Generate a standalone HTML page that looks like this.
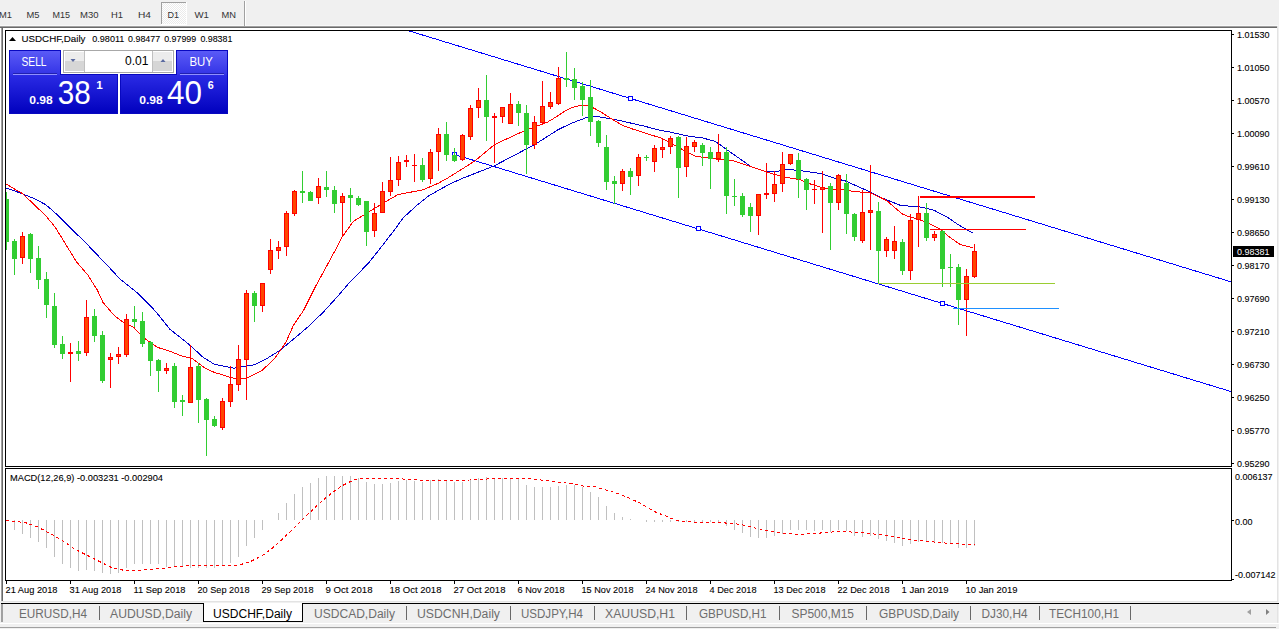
<!DOCTYPE html>
<html><head><meta charset="utf-8"><title>USDCHF,Daily</title>
<style>html,body{margin:0;padding:0;width:1279px;height:629px;overflow:hidden;background:#f0f0f0;font-family:'Liberation Sans', sans-serif}</style>
</head><body>
<svg width="1279" height="629" viewBox="0 0 1279 629" style="display:block;font-family:'Liberation Sans', sans-serif">
<defs><linearGradient id="btn" x1="0" y1="0" x2="0" y2="1"><stop offset="0" stop-color="#5a5af6"/><stop offset="0.4" stop-color="#2a2ae0"/><stop offset="1" stop-color="#0000c0"/></linearGradient><linearGradient id="btnl" gradientUnits="userSpaceOnUse" x1="0" y1="50" x2="0" y2="114"><stop offset="0" stop-color="#5c5cf7"/><stop offset="0.38" stop-color="#3434e6"/><stop offset="0.4" stop-color="#2a2ae4"/><stop offset="1" stop-color="#0000bd"/></linearGradient><pattern id="dith" width="2" height="2" patternUnits="userSpaceOnUse"><rect width="2" height="2" fill="#ffffff"/><rect width="1" height="1" fill="#ebebeb"/><rect x="1" y="1" width="1" height="1" fill="#ebebeb"/></pattern><clipPath id="clipMain"><rect x="6" y="31" width="1225" height="435"/></clipPath><clipPath id="clipMacd"><rect x="6" y="469" width="1225" height="111"/></clipPath></defs>
<rect x="0" y="0" width="1279" height="629" fill="#f0f0f0" />
<g shape-rendering="crispEdges">
<rect x="0" y="25" width="1278" height="1" fill="#f8f8f8" />
<rect x="0" y="26" width="1278" height="1" fill="#a0a0a0" />
<rect x="0" y="27" width="1278" height="1" fill="#696969" />
<rect x="161" y="2" width="25" height="22" fill="url(#dith)" />
<rect x="161" y="2" width="25" height="1" fill="#a0a0a0" />
<rect x="161" y="2" width="1" height="22" fill="#a0a0a0" />
<rect x="186" y="2" width="1" height="22" fill="#ffffff" />
<rect x="161" y="24" width="26" height="1" fill="#ffffff" />
<rect x="244" y="1" width="1" height="25" fill="#a0a0a0" />
<rect x="245" y="1" width="1" height="25" fill="#ffffff" />
<rect x="0" y="28" width="1278" height="573" fill="#ffffff" />
<rect x="1" y="28" width="1" height="573" fill="#a0a0a0" />
<rect x="2" y="28" width="1" height="573" fill="#696969" />
<rect x="1277" y="26" width="1" height="576" fill="#e3e3e3" />
<rect x="1" y="601" width="1277" height="1" fill="#e3e3e3" />
<rect x="5" y="30" width="1227" height="1" fill="#000" />
<rect x="5" y="30" width="1" height="437" fill="#000" />
<rect x="5" y="466" width="1227" height="1" fill="#000" />
<rect x="1231" y="30" width="1" height="437" fill="#000" />
<rect x="5" y="468" width="1227" height="1" fill="#000" />
<rect x="5" y="468" width="1" height="113" fill="#000" />
<rect x="5" y="580" width="1227" height="1" fill="#000" />
<rect x="1231" y="468" width="1" height="113" fill="#000" />
</g>
<text x="-1" y="18" font-size="9.8" fill="#333333" font-weight="normal" text-anchor="start" textLength="13" lengthAdjust="spacingAndGlyphs" >M1</text>
<text x="26.5" y="18" font-size="9.8" fill="#333333" font-weight="normal" text-anchor="start" textLength="13.0" lengthAdjust="spacingAndGlyphs" >M5</text>
<text x="52.5" y="18" font-size="9.8" fill="#333333" font-weight="normal" text-anchor="start" textLength="17.5" lengthAdjust="spacingAndGlyphs" >M15</text>
<text x="80" y="18" font-size="9.8" fill="#333333" font-weight="normal" text-anchor="start" textLength="18.5" lengthAdjust="spacingAndGlyphs" >M30</text>
<text x="111" y="18" font-size="9.8" fill="#333333" font-weight="normal" text-anchor="start" textLength="12" lengthAdjust="spacingAndGlyphs" >H1</text>
<text x="138" y="18" font-size="9.8" fill="#333333" font-weight="normal" text-anchor="start" textLength="13" lengthAdjust="spacingAndGlyphs" >H4</text>
<text x="167.5" y="18" font-size="9.8" fill="#333333" font-weight="normal" text-anchor="start" textLength="11.5" lengthAdjust="spacingAndGlyphs" >D1</text>
<text x="194.5" y="18" font-size="9.8" fill="#333333" font-weight="normal" text-anchor="start" textLength="14.5" lengthAdjust="spacingAndGlyphs" >W1</text>
<text x="221.5" y="18" font-size="9.8" fill="#333333" font-weight="normal" text-anchor="start" textLength="14.5" lengthAdjust="spacingAndGlyphs" >MN</text>
<g shape-rendering="crispEdges">
<rect x="1232" y="34" width="2" height="1" fill="#000" />
<rect x="1232" y="67" width="2" height="1" fill="#000" />
<rect x="1232" y="100" width="2" height="1" fill="#000" />
<rect x="1232" y="133" width="2" height="1" fill="#000" />
<rect x="1232" y="166" width="2" height="1" fill="#000" />
<rect x="1232" y="199" width="2" height="1" fill="#000" />
<rect x="1232" y="232" width="2" height="1" fill="#000" />
<rect x="1232" y="265" width="2" height="1" fill="#000" />
<rect x="1232" y="298" width="2" height="1" fill="#000" />
<rect x="1232" y="331" width="2" height="1" fill="#000" />
<rect x="1232" y="364" width="2" height="1" fill="#000" />
<rect x="1232" y="397" width="2" height="1" fill="#000" />
<rect x="1232" y="430" width="2" height="1" fill="#000" />
<rect x="1232" y="463" width="2" height="1" fill="#000" />
</g>
<text x="1237" y="38" font-size="9.8" fill="#000" font-weight="normal" text-anchor="start" textLength="32.5" lengthAdjust="spacingAndGlyphs" stroke="#000" stroke-width="0.1">1.01530</text>
<text x="1237" y="71" font-size="9.8" fill="#000" font-weight="normal" text-anchor="start" textLength="32.5" lengthAdjust="spacingAndGlyphs" stroke="#000" stroke-width="0.1">1.01050</text>
<text x="1237" y="104" font-size="9.8" fill="#000" font-weight="normal" text-anchor="start" textLength="32.5" lengthAdjust="spacingAndGlyphs" stroke="#000" stroke-width="0.1">1.00570</text>
<text x="1237" y="137" font-size="9.8" fill="#000" font-weight="normal" text-anchor="start" textLength="32.5" lengthAdjust="spacingAndGlyphs" stroke="#000" stroke-width="0.1">1.00090</text>
<text x="1237" y="170" font-size="9.8" fill="#000" font-weight="normal" text-anchor="start" textLength="32.5" lengthAdjust="spacingAndGlyphs" stroke="#000" stroke-width="0.1">0.99610</text>
<text x="1237" y="203" font-size="9.8" fill="#000" font-weight="normal" text-anchor="start" textLength="32.5" lengthAdjust="spacingAndGlyphs" stroke="#000" stroke-width="0.1">0.99130</text>
<text x="1237" y="236" font-size="9.8" fill="#000" font-weight="normal" text-anchor="start" textLength="32.5" lengthAdjust="spacingAndGlyphs" stroke="#000" stroke-width="0.1">0.98650</text>
<text x="1237" y="269" font-size="9.8" fill="#000" font-weight="normal" text-anchor="start" textLength="32.5" lengthAdjust="spacingAndGlyphs" stroke="#000" stroke-width="0.1">0.98170</text>
<text x="1237" y="302" font-size="9.8" fill="#000" font-weight="normal" text-anchor="start" textLength="32.5" lengthAdjust="spacingAndGlyphs" stroke="#000" stroke-width="0.1">0.97690</text>
<text x="1237" y="335" font-size="9.8" fill="#000" font-weight="normal" text-anchor="start" textLength="32.5" lengthAdjust="spacingAndGlyphs" stroke="#000" stroke-width="0.1">0.97210</text>
<text x="1237" y="368" font-size="9.8" fill="#000" font-weight="normal" text-anchor="start" textLength="32.5" lengthAdjust="spacingAndGlyphs" stroke="#000" stroke-width="0.1">0.96730</text>
<text x="1237" y="401" font-size="9.8" fill="#000" font-weight="normal" text-anchor="start" textLength="32.5" lengthAdjust="spacingAndGlyphs" stroke="#000" stroke-width="0.1">0.96250</text>
<text x="1237" y="434" font-size="9.8" fill="#000" font-weight="normal" text-anchor="start" textLength="32.5" lengthAdjust="spacingAndGlyphs" stroke="#000" stroke-width="0.1">0.95770</text>
<text x="1237" y="467" font-size="9.8" fill="#000" font-weight="normal" text-anchor="start" textLength="32.5" lengthAdjust="spacingAndGlyphs" stroke="#000" stroke-width="0.1">0.95290</text>
<rect x="1233" y="246" width="41" height="11" fill="#000" />
<text x="1237" y="255" font-size="9.8" fill="#fff" font-weight="normal" text-anchor="start" textLength="32.5" lengthAdjust="spacingAndGlyphs" >0.98381</text>
<g shape-rendering="crispEdges">
<rect x="1232" y="520" width="2" height="1" fill="#000" />
<rect x="1232" y="579" width="2" height="1" fill="#000" />
</g>
<text x="1235" y="479.5" font-size="9.8" fill="#000" font-weight="normal" text-anchor="start" textLength="37.5" lengthAdjust="spacingAndGlyphs" stroke="#000" stroke-width="0.1">0.006137</text>
<text x="1235" y="524.5" font-size="9.8" fill="#000" font-weight="normal" text-anchor="start" textLength="17.5" lengthAdjust="spacingAndGlyphs" stroke="#000" stroke-width="0.1">0.00</text>
<text x="1235" y="577.5" font-size="9.8" fill="#000" font-weight="normal" text-anchor="start" textLength="40.5" lengthAdjust="spacingAndGlyphs" stroke="#000" stroke-width="0.1">-0.007142</text>
<g shape-rendering="crispEdges">
<rect x="6" y="581" width="1" height="3" fill="#000" />
<rect x="70" y="581" width="1" height="3" fill="#000" />
<rect x="134" y="581" width="1" height="3" fill="#000" />
<rect x="198" y="581" width="1" height="3" fill="#000" />
<rect x="262" y="581" width="1" height="3" fill="#000" />
<rect x="326" y="581" width="1" height="3" fill="#000" />
<rect x="390" y="581" width="1" height="3" fill="#000" />
<rect x="454" y="581" width="1" height="3" fill="#000" />
<rect x="518" y="581" width="1" height="3" fill="#000" />
<rect x="582" y="581" width="1" height="3" fill="#000" />
<rect x="646" y="581" width="1" height="3" fill="#000" />
<rect x="710" y="581" width="1" height="3" fill="#000" />
<rect x="774" y="581" width="1" height="3" fill="#000" />
<rect x="838" y="581" width="1" height="3" fill="#000" />
<rect x="902" y="581" width="1" height="3" fill="#000" />
<rect x="966" y="581" width="1" height="3" fill="#000" />
</g>
<text x="5.5" y="593" font-size="9.8" fill="#000" font-weight="normal" text-anchor="start" textLength="52" lengthAdjust="spacingAndGlyphs" stroke="#000" stroke-width="0.1">21 Aug 2018</text>
<text x="69.5" y="593" font-size="9.8" fill="#000" font-weight="normal" text-anchor="start" textLength="52" lengthAdjust="spacingAndGlyphs" stroke="#000" stroke-width="0.1">31 Aug 2018</text>
<text x="133.5" y="593" font-size="9.8" fill="#000" font-weight="normal" text-anchor="start" textLength="52" lengthAdjust="spacingAndGlyphs" stroke="#000" stroke-width="0.1">11 Sep 2018</text>
<text x="197.5" y="593" font-size="9.8" fill="#000" font-weight="normal" text-anchor="start" textLength="52" lengthAdjust="spacingAndGlyphs" stroke="#000" stroke-width="0.1">20 Sep 2018</text>
<text x="261.5" y="593" font-size="9.8" fill="#000" font-weight="normal" text-anchor="start" textLength="52" lengthAdjust="spacingAndGlyphs" stroke="#000" stroke-width="0.1">29 Sep 2018</text>
<text x="325.5" y="593" font-size="9.8" fill="#000" font-weight="normal" text-anchor="start" textLength="47" lengthAdjust="spacingAndGlyphs" stroke="#000" stroke-width="0.1">9 Oct 2018</text>
<text x="389.5" y="593" font-size="9.8" fill="#000" font-weight="normal" text-anchor="start" textLength="52" lengthAdjust="spacingAndGlyphs" stroke="#000" stroke-width="0.1">18 Oct 2018</text>
<text x="453.5" y="593" font-size="9.8" fill="#000" font-weight="normal" text-anchor="start" textLength="52" lengthAdjust="spacingAndGlyphs" stroke="#000" stroke-width="0.1">27 Oct 2018</text>
<text x="517.5" y="593" font-size="9.8" fill="#000" font-weight="normal" text-anchor="start" textLength="47" lengthAdjust="spacingAndGlyphs" stroke="#000" stroke-width="0.1">6 Nov 2018</text>
<text x="581.5" y="593" font-size="9.8" fill="#000" font-weight="normal" text-anchor="start" textLength="52" lengthAdjust="spacingAndGlyphs" stroke="#000" stroke-width="0.1">15 Nov 2018</text>
<text x="645.5" y="593" font-size="9.8" fill="#000" font-weight="normal" text-anchor="start" textLength="52" lengthAdjust="spacingAndGlyphs" stroke="#000" stroke-width="0.1">24 Nov 2018</text>
<text x="709.5" y="593" font-size="9.8" fill="#000" font-weight="normal" text-anchor="start" textLength="47" lengthAdjust="spacingAndGlyphs" stroke="#000" stroke-width="0.1">4 Dec 2018</text>
<text x="773.5" y="593" font-size="9.8" fill="#000" font-weight="normal" text-anchor="start" textLength="52" lengthAdjust="spacingAndGlyphs" stroke="#000" stroke-width="0.1">13 Dec 2018</text>
<text x="837.5" y="593" font-size="9.8" fill="#000" font-weight="normal" text-anchor="start" textLength="52" lengthAdjust="spacingAndGlyphs" stroke="#000" stroke-width="0.1">22 Dec 2018</text>
<text x="901.5" y="593" font-size="9.8" fill="#000" font-weight="normal" text-anchor="start" textLength="47" lengthAdjust="spacingAndGlyphs" stroke="#000" stroke-width="0.1">1 Jan 2019</text>
<text x="965.5" y="593" font-size="9.8" fill="#000" font-weight="normal" text-anchor="start" textLength="52" lengthAdjust="spacingAndGlyphs" stroke="#000" stroke-width="0.1">10 Jan 2019</text>
<path d="M9 41 L16 41 L12.5 37 Z" fill="#000"/>
<text x="21.5" y="41.5" font-size="9.8" fill="#000" font-weight="normal" text-anchor="start" textLength="64" lengthAdjust="spacingAndGlyphs" stroke="#000" stroke-width="0.1">USDCHF,Daily</text>
<text x="92.3" y="41.5" font-size="9.8" fill="#000" font-weight="normal" text-anchor="start" textLength="32" lengthAdjust="spacingAndGlyphs" stroke="#000" stroke-width="0.1">0.98011</text>
<text x="128.1" y="41.5" font-size="9.8" fill="#000" font-weight="normal" text-anchor="start" textLength="32" lengthAdjust="spacingAndGlyphs" stroke="#000" stroke-width="0.1">0.98477</text>
<text x="164.2" y="41.5" font-size="9.8" fill="#000" font-weight="normal" text-anchor="start" textLength="32" lengthAdjust="spacingAndGlyphs" stroke="#000" stroke-width="0.1">0.97999</text>
<text x="200.4" y="41.5" font-size="9.8" fill="#000" font-weight="normal" text-anchor="start" textLength="32" lengthAdjust="spacingAndGlyphs" stroke="#000" stroke-width="0.1">0.98381</text>
<g clip-path="url(#clipMain)">
<g shape-rendering="crispEdges" fill="none" stroke="#0000ff" stroke-width="1">
<path d="M407.77 30.5 L1231 281.83"/>
<path d="M454.5 154.5 L1231 391.57"/>
</g>
<g shape-rendering="crispEdges" fill="#fff" stroke="#0000ff" stroke-width="1">
<rect x="628.5" y="96.5" width="4" height="4"/>
<rect x="452.5" y="152.5" width="4" height="4"/>
<rect x="696.5" y="226.5" width="4" height="4"/>
<rect x="940.5" y="301.5" width="4" height="4"/>
</g>
<polyline points="5.0,187.6 19.0,192.5 34.4,198.6 45.8,204.7 57.3,214.8 74.4,232.0 82.0,239.0 97.3,254.9 114.5,273.0 118.3,277.6 137.4,292.9 152.7,308.2 158.4,314.8 169.8,329.2 183.2,339.7 191.6,346.7 203.0,357.2 214.5,364.4 233.6,368.2 241.2,366.7 254.6,364.8 266.0,359.1 280.5,350.0 306.8,327.9 322.7,312.8 338.6,295.3 348.0,284.2 368.8,262.7 378.3,250.8 394.4,230.0 403.0,218.0 417.3,205.0 428.8,195.8 440.0,189.4 452.0,183.0 463.4,178.0 494.5,165.7 534.6,144.6 558.6,129.4 572.0,123.0 587.2,117.3 597.2,116.5 614.4,119.4 643.0,125.8 658.7,130.0 671.2,132.3 689.0,136.3 702.3,137.8 715.7,141.6 729.0,151.2 751.3,166.8 766.9,171.9 778.0,171.2 786.9,169.5 800.0,170.5 820.1,173.5 836.7,178.8 845.5,181.0 861.2,188.0 870.0,191.9 880.0,197.2 901.1,205.6 918.9,206.7 933.4,210.0 946.7,216.7 957.9,224.5 973.4,233.4" fill="none" stroke="#0000cd" stroke-width="1" shape-rendering="crispEdges"/>
<polyline points="5.0,183.4 22.9,193.9 45.8,215.8 55.3,227.3 76.3,261.6 87.8,275.0 97.3,290.0 103.0,302.4 114.5,315.8 122.1,321.5 133.6,327.3 145.0,338.7 157.3,347.3 170.6,351.5 182.1,356.2 191.6,358.1 205.0,368.2 214.5,372.4 229.8,377.2 237.4,379.1 246.9,378.2 262.2,370.5 275.6,357.2 286.1,341.9 293.3,325.5 303.6,310.4 314.7,288.0 335.4,250.0 342.3,236.8 353.4,221.2 364.6,214.5 384.6,202.3 398.0,194.5 422.4,190.0 438.0,183.4 447.8,178.0 474.5,161.2 494.5,144.6 523.4,131.2 547.2,122.3 556.0,117.0 564.3,111.5 572.0,107.6 580.0,105.5 587.0,105.4 594.4,108.4 600.0,111.5 605.8,115.1 615.8,121.5 623.0,125.5 631.6,128.7 662.3,138.5 680.0,148.3 695.7,156.3 711.2,158.5 733.5,160.7 751.3,166.8 769.0,172.8 784.7,177.2 800.0,179.7 808.7,183.4 820.1,187.1 828.8,189.3 849.0,190.2 852.4,191.5 868.2,192.5 874.3,194.5 886.7,200.6 902.2,213.9 908.9,216.7 916.7,218.7 928.9,223.4 940.1,228.9 949.0,236.7 960.1,244.5 973.4,247.8" fill="none" stroke="#ff0000" stroke-width="1" shape-rendering="crispEdges"/>
<g shape-rendering="crispEdges">
<rect x="6" y="192" width="1" height="58" fill="#32cd32" />
<rect x="4" y="199" width="5" height="43" fill="#32cd32" />
<rect x="14" y="239" width="1" height="36" fill="#32cd32" />
<rect x="12" y="241" width="5" height="18" fill="#32cd32" />
<rect x="22" y="232" width="1" height="32" fill="#ff0000" />
<rect x="20" y="236" width="5" height="22" fill="#ff0000" />
<rect x="21" y="237" width="3" height="20" fill="#ff4500" />
<rect x="30" y="233" width="1" height="40" fill="#32cd32" />
<rect x="28" y="234" width="5" height="25" fill="#32cd32" />
<rect x="38" y="246" width="1" height="43" fill="#32cd32" />
<rect x="36" y="258" width="5" height="22" fill="#32cd32" />
<rect x="46" y="272" width="1" height="46" fill="#32cd32" />
<rect x="44" y="279" width="5" height="26" fill="#32cd32" />
<rect x="54" y="293" width="1" height="55" fill="#32cd32" />
<rect x="52" y="306" width="5" height="39" fill="#32cd32" />
<rect x="62" y="336" width="1" height="23" fill="#32cd32" />
<rect x="60" y="344" width="5" height="10" fill="#32cd32" />
<rect x="70" y="343" width="1" height="39" fill="#ff0000" />
<rect x="68" y="352" width="5" height="2" fill="#ff0000" />
<rect x="78" y="341" width="1" height="20" fill="#32cd32" />
<rect x="76" y="351" width="5" height="3" fill="#32cd32" />
<rect x="86" y="300" width="1" height="56" fill="#ff0000" />
<rect x="84" y="317" width="5" height="36" fill="#ff0000" />
<rect x="85" y="318" width="3" height="34" fill="#ff4500" />
<rect x="94" y="309" width="1" height="33" fill="#32cd32" />
<rect x="92" y="316" width="5" height="20" fill="#32cd32" />
<rect x="102" y="331" width="1" height="52" fill="#32cd32" />
<rect x="100" y="335" width="5" height="46" fill="#32cd32" />
<rect x="110" y="353" width="1" height="35" fill="#ff0000" />
<rect x="108" y="357" width="5" height="3" fill="#ff0000" />
<rect x="109" y="358" width="3" height="1" fill="#ff4500" />
<rect x="118" y="347" width="1" height="17" fill="#ff0000" />
<rect x="116" y="354" width="5" height="3" fill="#ff0000" />
<rect x="117" y="355" width="3" height="1" fill="#ff4500" />
<rect x="126" y="314" width="1" height="43" fill="#ff0000" />
<rect x="124" y="319" width="5" height="36" fill="#ff0000" />
<rect x="125" y="320" width="3" height="34" fill="#ff4500" />
<rect x="134" y="306" width="1" height="21" fill="#32cd32" />
<rect x="132" y="319" width="5" height="3" fill="#32cd32" />
<rect x="142" y="312" width="1" height="35" fill="#32cd32" />
<rect x="140" y="321" width="5" height="23" fill="#32cd32" />
<rect x="150" y="341" width="1" height="35" fill="#32cd32" />
<rect x="148" y="342" width="5" height="19" fill="#32cd32" />
<rect x="158" y="359" width="1" height="33" fill="#32cd32" />
<rect x="156" y="360" width="5" height="11" fill="#32cd32" />
<rect x="166" y="363" width="1" height="11" fill="#ff0000" />
<rect x="164" y="368" width="5" height="3" fill="#ff0000" />
<rect x="165" y="369" width="3" height="1" fill="#ff4500" />
<rect x="174" y="363" width="1" height="45" fill="#32cd32" />
<rect x="172" y="366" width="5" height="36" fill="#32cd32" />
<rect x="182" y="395" width="1" height="21" fill="#32cd32" />
<rect x="180" y="400" width="5" height="2" fill="#32cd32" />
<rect x="190" y="345" width="1" height="58" fill="#ff0000" />
<rect x="188" y="367" width="5" height="36" fill="#ff0000" />
<rect x="189" y="368" width="3" height="34" fill="#ff4500" />
<rect x="198" y="363" width="1" height="60" fill="#32cd32" />
<rect x="196" y="366" width="5" height="34" fill="#32cd32" />
<rect x="206" y="398" width="1" height="58" fill="#32cd32" />
<rect x="204" y="399" width="5" height="21" fill="#32cd32" />
<rect x="214" y="416" width="1" height="11" fill="#32cd32" />
<rect x="212" y="419" width="5" height="7" fill="#32cd32" />
<rect x="222" y="398" width="1" height="32" fill="#ff0000" />
<rect x="220" y="401" width="5" height="27" fill="#ff0000" />
<rect x="221" y="402" width="3" height="25" fill="#ff4500" />
<rect x="230" y="366" width="1" height="41" fill="#ff0000" />
<rect x="228" y="384" width="5" height="18" fill="#ff0000" />
<rect x="229" y="385" width="3" height="16" fill="#ff4500" />
<rect x="238" y="345" width="1" height="46" fill="#ff0000" />
<rect x="236" y="359" width="5" height="26" fill="#ff0000" />
<rect x="237" y="360" width="3" height="24" fill="#ff4500" />
<rect x="246" y="290" width="1" height="110" fill="#ff0000" />
<rect x="244" y="293" width="5" height="67" fill="#ff0000" />
<rect x="245" y="294" width="3" height="65" fill="#ff4500" />
<rect x="254" y="291" width="1" height="31" fill="#32cd32" />
<rect x="252" y="293" width="5" height="13" fill="#32cd32" />
<rect x="262" y="283" width="1" height="29" fill="#ff0000" />
<rect x="260" y="283" width="5" height="23" fill="#ff0000" />
<rect x="261" y="284" width="3" height="21" fill="#ff4500" />
<rect x="270" y="239" width="1" height="35" fill="#ff0000" />
<rect x="268" y="250" width="5" height="20" fill="#ff0000" />
<rect x="269" y="251" width="3" height="18" fill="#ff4500" />
<rect x="278" y="241" width="1" height="18" fill="#ff0000" />
<rect x="276" y="247" width="5" height="4" fill="#ff0000" />
<rect x="277" y="248" width="3" height="2" fill="#ff4500" />
<rect x="286" y="211" width="1" height="45" fill="#ff0000" />
<rect x="284" y="213" width="5" height="34" fill="#ff0000" />
<rect x="285" y="214" width="3" height="32" fill="#ff4500" />
<rect x="294" y="190" width="1" height="26" fill="#ff0000" />
<rect x="292" y="191" width="5" height="23" fill="#ff0000" />
<rect x="293" y="192" width="3" height="21" fill="#ff4500" />
<rect x="302" y="171" width="1" height="32" fill="#32cd32" />
<rect x="300" y="191" width="5" height="2" fill="#32cd32" />
<rect x="310" y="191" width="1" height="10" fill="#32cd32" />
<rect x="308" y="192" width="5" height="9" fill="#32cd32" />
<rect x="318" y="178" width="1" height="26" fill="#ff0000" />
<rect x="316" y="186" width="5" height="12" fill="#ff0000" />
<rect x="317" y="187" width="3" height="10" fill="#ff4500" />
<rect x="326" y="171" width="1" height="26" fill="#32cd32" />
<rect x="324" y="187" width="5" height="3" fill="#32cd32" />
<rect x="334" y="186" width="1" height="27" fill="#32cd32" />
<rect x="332" y="190" width="5" height="14" fill="#32cd32" />
<rect x="342" y="193" width="1" height="44" fill="#ff0000" />
<rect x="340" y="196" width="5" height="7" fill="#ff0000" />
<rect x="341" y="197" width="3" height="5" fill="#ff4500" />
<rect x="350" y="188" width="1" height="34" fill="#32cd32" />
<rect x="348" y="195" width="5" height="3" fill="#32cd32" />
<rect x="358" y="196" width="1" height="10" fill="#32cd32" />
<rect x="356" y="198" width="5" height="7" fill="#32cd32" />
<rect x="366" y="201" width="1" height="45" fill="#32cd32" />
<rect x="364" y="201" width="5" height="31" fill="#32cd32" />
<rect x="374" y="203" width="1" height="34" fill="#ff0000" />
<rect x="372" y="213" width="5" height="18" fill="#ff0000" />
<rect x="373" y="214" width="3" height="16" fill="#ff4500" />
<rect x="382" y="182" width="1" height="31" fill="#ff0000" />
<rect x="380" y="191" width="5" height="22" fill="#ff0000" />
<rect x="381" y="192" width="3" height="20" fill="#ff4500" />
<rect x="390" y="157" width="1" height="39" fill="#ff0000" />
<rect x="388" y="180" width="5" height="12" fill="#ff0000" />
<rect x="389" y="181" width="3" height="10" fill="#ff4500" />
<rect x="398" y="156" width="1" height="30" fill="#ff0000" />
<rect x="396" y="162" width="5" height="18" fill="#ff0000" />
<rect x="397" y="163" width="3" height="16" fill="#ff4500" />
<rect x="406" y="155" width="1" height="12" fill="#ff0000" />
<rect x="404" y="160" width="5" height="2" fill="#ff0000" />
<rect x="414" y="154" width="1" height="28" fill="#ff0000" />
<rect x="412" y="165" width="5" height="1" fill="#ff0000" />
<rect x="422" y="158" width="1" height="24" fill="#32cd32" />
<rect x="420" y="165" width="5" height="15" fill="#32cd32" />
<rect x="430" y="149" width="1" height="35" fill="#ff0000" />
<rect x="428" y="152" width="5" height="27" fill="#ff0000" />
<rect x="429" y="153" width="3" height="25" fill="#ff4500" />
<rect x="438" y="128" width="1" height="43" fill="#ff0000" />
<rect x="436" y="134" width="5" height="18" fill="#ff0000" />
<rect x="437" y="135" width="3" height="16" fill="#ff4500" />
<rect x="446" y="122" width="1" height="39" fill="#32cd32" />
<rect x="444" y="134" width="5" height="21" fill="#32cd32" />
<rect x="454" y="148" width="1" height="14" fill="#32cd32" />
<rect x="452" y="155" width="5" height="6" fill="#32cd32" />
<rect x="462" y="134" width="1" height="27" fill="#ff0000" />
<rect x="460" y="135" width="5" height="25" fill="#ff0000" />
<rect x="461" y="136" width="3" height="23" fill="#ff4500" />
<rect x="470" y="105" width="1" height="35" fill="#ff0000" />
<rect x="468" y="108" width="5" height="29" fill="#ff0000" />
<rect x="469" y="109" width="3" height="27" fill="#ff4500" />
<rect x="478" y="88" width="1" height="30" fill="#ff0000" />
<rect x="476" y="100" width="5" height="8" fill="#ff0000" />
<rect x="477" y="101" width="3" height="6" fill="#ff4500" />
<rect x="486" y="75" width="1" height="66" fill="#32cd32" />
<rect x="484" y="100" width="5" height="17" fill="#32cd32" />
<rect x="494" y="113" width="1" height="50" fill="#ff0000" />
<rect x="492" y="116" width="5" height="2" fill="#ff0000" />
<rect x="502" y="107" width="1" height="16" fill="#ff0000" />
<rect x="500" y="107" width="5" height="10" fill="#ff0000" />
<rect x="501" y="108" width="3" height="8" fill="#ff4500" />
<rect x="510" y="93" width="1" height="31" fill="#ff0000" />
<rect x="508" y="104" width="5" height="20" fill="#ff0000" />
<rect x="509" y="105" width="3" height="18" fill="#ff4500" />
<rect x="518" y="101" width="1" height="25" fill="#32cd32" />
<rect x="516" y="104" width="5" height="9" fill="#32cd32" />
<rect x="526" y="105" width="1" height="69" fill="#32cd32" />
<rect x="524" y="113" width="5" height="32" fill="#32cd32" />
<rect x="534" y="116" width="1" height="33" fill="#ff0000" />
<rect x="532" y="122" width="5" height="23" fill="#ff0000" />
<rect x="533" y="123" width="3" height="21" fill="#ff4500" />
<rect x="542" y="81" width="1" height="43" fill="#ff0000" />
<rect x="540" y="106" width="5" height="17" fill="#ff0000" />
<rect x="541" y="107" width="3" height="15" fill="#ff4500" />
<rect x="550" y="92" width="1" height="17" fill="#ff0000" />
<rect x="548" y="102" width="5" height="5" fill="#ff0000" />
<rect x="549" y="103" width="3" height="3" fill="#ff4500" />
<rect x="558" y="67" width="1" height="38" fill="#ff0000" />
<rect x="556" y="78" width="5" height="26" fill="#ff0000" />
<rect x="557" y="79" width="3" height="24" fill="#ff4500" />
<rect x="566" y="52" width="1" height="35" fill="#32cd32" />
<rect x="564" y="78" width="5" height="2" fill="#32cd32" />
<rect x="574" y="68" width="1" height="32" fill="#32cd32" />
<rect x="572" y="79" width="5" height="9" fill="#32cd32" />
<rect x="582" y="82" width="1" height="34" fill="#32cd32" />
<rect x="580" y="86" width="5" height="14" fill="#32cd32" />
<rect x="590" y="80" width="1" height="56" fill="#32cd32" />
<rect x="588" y="97" width="5" height="25" fill="#32cd32" />
<rect x="598" y="120" width="1" height="27" fill="#32cd32" />
<rect x="596" y="121" width="5" height="22" fill="#32cd32" />
<rect x="606" y="135" width="1" height="55" fill="#32cd32" />
<rect x="604" y="147" width="5" height="35" fill="#32cd32" />
<rect x="614" y="176" width="1" height="28" fill="#32cd32" />
<rect x="612" y="181" width="5" height="3" fill="#32cd32" />
<rect x="622" y="169" width="1" height="22" fill="#ff0000" />
<rect x="620" y="171" width="5" height="13" fill="#ff0000" />
<rect x="621" y="172" width="3" height="11" fill="#ff4500" />
<rect x="630" y="168" width="1" height="27" fill="#32cd32" />
<rect x="628" y="171" width="5" height="6" fill="#32cd32" />
<rect x="638" y="154" width="1" height="32" fill="#ff0000" />
<rect x="636" y="157" width="5" height="19" fill="#ff0000" />
<rect x="637" y="158" width="3" height="17" fill="#ff4500" />
<rect x="646" y="155" width="1" height="6" fill="#32cd32" />
<rect x="644" y="157" width="5" height="1" fill="#32cd32" />
<rect x="654" y="145" width="1" height="27" fill="#ff0000" />
<rect x="652" y="148" width="5" height="14" fill="#ff0000" />
<rect x="653" y="149" width="3" height="12" fill="#ff4500" />
<rect x="662" y="138" width="1" height="20" fill="#ff0000" />
<rect x="660" y="147" width="5" height="3" fill="#ff0000" />
<rect x="661" y="148" width="3" height="1" fill="#ff4500" />
<rect x="670" y="136" width="1" height="18" fill="#ff0000" />
<rect x="668" y="138" width="5" height="9" fill="#ff0000" />
<rect x="669" y="139" width="3" height="7" fill="#ff4500" />
<rect x="678" y="136" width="1" height="62" fill="#32cd32" />
<rect x="676" y="137" width="5" height="31" fill="#32cd32" />
<rect x="686" y="137" width="1" height="40" fill="#ff0000" />
<rect x="684" y="146" width="5" height="21" fill="#ff0000" />
<rect x="685" y="147" width="3" height="19" fill="#ff4500" />
<rect x="694" y="140" width="1" height="12" fill="#ff0000" />
<rect x="692" y="142" width="5" height="5" fill="#ff0000" />
<rect x="693" y="143" width="3" height="3" fill="#ff4500" />
<rect x="702" y="143" width="1" height="23" fill="#32cd32" />
<rect x="700" y="145" width="5" height="8" fill="#32cd32" />
<rect x="710" y="147" width="1" height="42" fill="#32cd32" />
<rect x="708" y="152" width="5" height="7" fill="#32cd32" />
<rect x="718" y="134" width="1" height="28" fill="#ff0000" />
<rect x="716" y="152" width="5" height="7" fill="#ff0000" />
<rect x="717" y="153" width="3" height="5" fill="#ff4500" />
<rect x="726" y="147" width="1" height="67" fill="#32cd32" />
<rect x="724" y="152" width="5" height="44" fill="#32cd32" />
<rect x="734" y="179" width="1" height="27" fill="#32cd32" />
<rect x="732" y="196" width="5" height="1" fill="#32cd32" />
<rect x="742" y="193" width="1" height="24" fill="#32cd32" />
<rect x="740" y="196" width="5" height="19" fill="#32cd32" />
<rect x="750" y="203" width="1" height="29" fill="#32cd32" />
<rect x="748" y="207" width="5" height="9" fill="#32cd32" />
<rect x="758" y="194" width="1" height="41" fill="#ff0000" />
<rect x="756" y="194" width="5" height="22" fill="#ff0000" />
<rect x="757" y="195" width="3" height="20" fill="#ff4500" />
<rect x="766" y="163" width="1" height="36" fill="#ff0000" />
<rect x="764" y="193" width="5" height="2" fill="#ff0000" />
<rect x="774" y="171" width="1" height="31" fill="#ff0000" />
<rect x="772" y="184" width="5" height="10" fill="#ff0000" />
<rect x="773" y="185" width="3" height="8" fill="#ff4500" />
<rect x="782" y="152" width="1" height="40" fill="#ff0000" />
<rect x="780" y="164" width="5" height="20" fill="#ff0000" />
<rect x="781" y="165" width="3" height="18" fill="#ff4500" />
<rect x="790" y="154" width="1" height="11" fill="#ff0000" />
<rect x="788" y="154" width="5" height="10" fill="#ff0000" />
<rect x="789" y="155" width="3" height="8" fill="#ff4500" />
<rect x="798" y="153" width="1" height="45" fill="#32cd32" />
<rect x="796" y="160" width="5" height="19" fill="#32cd32" />
<rect x="806" y="178" width="1" height="32" fill="#32cd32" />
<rect x="804" y="179" width="5" height="11" fill="#32cd32" />
<rect x="814" y="180" width="1" height="24" fill="#ff0000" />
<rect x="812" y="189" width="5" height="1" fill="#ff0000" />
<rect x="822" y="171" width="1" height="62" fill="#ff0000" />
<rect x="820" y="187" width="5" height="3" fill="#ff0000" />
<rect x="821" y="188" width="3" height="1" fill="#ff4500" />
<rect x="830" y="183" width="1" height="67" fill="#32cd32" />
<rect x="828" y="186" width="5" height="17" fill="#32cd32" />
<rect x="838" y="174" width="1" height="36" fill="#ff0000" />
<rect x="836" y="175" width="5" height="28" fill="#ff0000" />
<rect x="837" y="176" width="3" height="26" fill="#ff4500" />
<rect x="846" y="174" width="1" height="60" fill="#32cd32" />
<rect x="844" y="183" width="5" height="31" fill="#32cd32" />
<rect x="854" y="213" width="1" height="28" fill="#32cd32" />
<rect x="852" y="214" width="5" height="23" fill="#32cd32" />
<rect x="862" y="190" width="1" height="53" fill="#ff0000" />
<rect x="860" y="212" width="5" height="29" fill="#ff0000" />
<rect x="861" y="213" width="3" height="27" fill="#ff4500" />
<rect x="870" y="165" width="1" height="85" fill="#ff0000" />
<rect x="868" y="210" width="5" height="3" fill="#ff0000" />
<rect x="869" y="211" width="3" height="1" fill="#ff4500" />
<rect x="878" y="202" width="1" height="82" fill="#32cd32" />
<rect x="876" y="211" width="5" height="40" fill="#32cd32" />
<rect x="886" y="237" width="1" height="20" fill="#ff0000" />
<rect x="884" y="239" width="5" height="12" fill="#ff0000" />
<rect x="885" y="240" width="3" height="10" fill="#ff4500" />
<rect x="894" y="226" width="1" height="33" fill="#ff0000" />
<rect x="892" y="241" width="5" height="10" fill="#ff0000" />
<rect x="893" y="242" width="3" height="8" fill="#ff4500" />
<rect x="902" y="239" width="1" height="36" fill="#32cd32" />
<rect x="900" y="242" width="5" height="29" fill="#32cd32" />
<rect x="910" y="214" width="1" height="66" fill="#ff0000" />
<rect x="908" y="220" width="5" height="51" fill="#ff0000" />
<rect x="909" y="221" width="3" height="49" fill="#ff4500" />
<rect x="918" y="196" width="1" height="51" fill="#ff0000" />
<rect x="916" y="213" width="5" height="7" fill="#ff0000" />
<rect x="917" y="214" width="3" height="5" fill="#ff4500" />
<rect x="926" y="203" width="1" height="38" fill="#32cd32" />
<rect x="924" y="213" width="5" height="25" fill="#32cd32" />
<rect x="934" y="231" width="1" height="10" fill="#ff0000" />
<rect x="932" y="234" width="5" height="4" fill="#ff0000" />
<rect x="933" y="235" width="3" height="2" fill="#ff4500" />
<rect x="942" y="230" width="1" height="57" fill="#32cd32" />
<rect x="940" y="231" width="5" height="38" fill="#32cd32" />
<rect x="950" y="254" width="1" height="33" fill="#32cd32" />
<rect x="948" y="267" width="5" height="1" fill="#32cd32" />
<rect x="958" y="264" width="1" height="61" fill="#32cd32" />
<rect x="956" y="267" width="5" height="33" fill="#32cd32" />
<rect x="966" y="269" width="1" height="67" fill="#ff0000" />
<rect x="964" y="276" width="5" height="24" fill="#ff0000" />
<rect x="965" y="277" width="3" height="22" fill="#ff4500" />
<rect x="974" y="244" width="1" height="34" fill="#ff0000" />
<rect x="972" y="251" width="5" height="26" fill="#ff0000" />
<rect x="973" y="252" width="3" height="24" fill="#ff4500" />
</g>
<g shape-rendering="crispEdges">
<rect x="920" y="196" width="115" height="2" fill="#ff0000" />
<rect x="930" y="229" width="96" height="1" fill="#ff0000" />
<rect x="878" y="283" width="177" height="1" fill="#9acd32" />
<rect x="953" y="308" width="106" height="1" fill="#1e90ff" />
</g>
</g>
<g clip-path="url(#clipMacd)">
<g shape-rendering="crispEdges">
<rect x="6" y="520" width="1" height="1" fill="#c0c0c0" />
<rect x="14" y="520" width="1" height="10" fill="#c0c0c0" />
<rect x="22" y="520" width="1" height="14" fill="#c0c0c0" />
<rect x="30" y="520" width="1" height="18" fill="#c0c0c0" />
<rect x="38" y="520" width="1" height="22" fill="#c0c0c0" />
<rect x="46" y="520" width="1" height="28" fill="#c0c0c0" />
<rect x="54" y="520" width="1" height="37" fill="#c0c0c0" />
<rect x="62" y="520" width="1" height="44" fill="#c0c0c0" />
<rect x="70" y="520" width="1" height="48" fill="#c0c0c0" />
<rect x="78" y="520" width="1" height="51" fill="#c0c0c0" />
<rect x="86" y="520" width="1" height="50" fill="#c0c0c0" />
<rect x="94" y="520" width="1" height="51" fill="#c0c0c0" />
<rect x="102" y="520" width="1" height="53" fill="#c0c0c0" />
<rect x="110" y="520" width="1" height="54" fill="#c0c0c0" />
<rect x="118" y="520" width="1" height="53" fill="#c0c0c0" />
<rect x="126" y="520" width="1" height="48" fill="#c0c0c0" />
<rect x="134" y="520" width="1" height="44" fill="#c0c0c0" />
<rect x="142" y="520" width="1" height="44" fill="#c0c0c0" />
<rect x="150" y="520" width="1" height="44" fill="#c0c0c0" />
<rect x="158" y="520" width="1" height="44" fill="#c0c0c0" />
<rect x="166" y="520" width="1" height="47" fill="#c0c0c0" />
<rect x="174" y="520" width="1" height="47" fill="#c0c0c0" />
<rect x="182" y="520" width="1" height="47" fill="#c0c0c0" />
<rect x="190" y="520" width="1" height="48" fill="#c0c0c0" />
<rect x="198" y="520" width="1" height="48" fill="#c0c0c0" />
<rect x="206" y="520" width="1" height="48" fill="#c0c0c0" />
<rect x="214" y="520" width="1" height="48" fill="#c0c0c0" />
<rect x="222" y="520" width="1" height="46" fill="#c0c0c0" />
<rect x="230" y="520" width="1" height="43" fill="#c0c0c0" />
<rect x="238" y="520" width="1" height="37" fill="#c0c0c0" />
<rect x="246" y="520" width="1" height="26" fill="#c0c0c0" />
<rect x="254" y="520" width="1" height="18" fill="#c0c0c0" />
<rect x="262" y="520" width="1" height="10" fill="#c0c0c0" />
<rect x="278" y="513" width="1" height="7" fill="#c0c0c0" />
<rect x="286" y="503" width="1" height="17" fill="#c0c0c0" />
<rect x="294" y="494" width="1" height="26" fill="#c0c0c0" />
<rect x="302" y="487" width="1" height="33" fill="#c0c0c0" />
<rect x="310" y="483" width="1" height="37" fill="#c0c0c0" />
<rect x="318" y="478" width="1" height="42" fill="#c0c0c0" />
<rect x="326" y="476" width="1" height="44" fill="#c0c0c0" />
<rect x="334" y="476" width="1" height="44" fill="#c0c0c0" />
<rect x="342" y="476" width="1" height="44" fill="#c0c0c0" />
<rect x="350" y="476" width="1" height="44" fill="#c0c0c0" />
<rect x="358" y="478" width="1" height="42" fill="#c0c0c0" />
<rect x="366" y="482" width="1" height="38" fill="#c0c0c0" />
<rect x="374" y="484" width="1" height="36" fill="#c0c0c0" />
<rect x="382" y="484" width="1" height="36" fill="#c0c0c0" />
<rect x="390" y="483" width="1" height="37" fill="#c0c0c0" />
<rect x="398" y="481" width="1" height="39" fill="#c0c0c0" />
<rect x="406" y="480" width="1" height="40" fill="#c0c0c0" />
<rect x="414" y="481" width="1" height="39" fill="#c0c0c0" />
<rect x="422" y="482" width="1" height="38" fill="#c0c0c0" />
<rect x="430" y="480" width="1" height="40" fill="#c0c0c0" />
<rect x="438" y="479" width="1" height="41" fill="#c0c0c0" />
<rect x="446" y="480" width="1" height="40" fill="#c0c0c0" />
<rect x="454" y="482" width="1" height="38" fill="#c0c0c0" />
<rect x="462" y="482" width="1" height="38" fill="#c0c0c0" />
<rect x="470" y="480" width="1" height="40" fill="#c0c0c0" />
<rect x="478" y="478" width="1" height="42" fill="#c0c0c0" />
<rect x="486" y="477" width="1" height="43" fill="#c0c0c0" />
<rect x="494" y="478" width="1" height="42" fill="#c0c0c0" />
<rect x="502" y="478" width="1" height="42" fill="#c0c0c0" />
<rect x="510" y="478" width="1" height="42" fill="#c0c0c0" />
<rect x="518" y="479" width="1" height="41" fill="#c0c0c0" />
<rect x="526" y="485" width="1" height="35" fill="#c0c0c0" />
<rect x="534" y="487" width="1" height="33" fill="#c0c0c0" />
<rect x="542" y="487" width="1" height="33" fill="#c0c0c0" />
<rect x="550" y="487" width="1" height="33" fill="#c0c0c0" />
<rect x="558" y="486" width="1" height="34" fill="#c0c0c0" />
<rect x="566" y="485" width="1" height="35" fill="#c0c0c0" />
<rect x="574" y="485" width="1" height="35" fill="#c0c0c0" />
<rect x="582" y="487" width="1" height="33" fill="#c0c0c0" />
<rect x="590" y="492" width="1" height="28" fill="#c0c0c0" />
<rect x="598" y="497" width="1" height="23" fill="#c0c0c0" />
<rect x="606" y="506" width="1" height="14" fill="#c0c0c0" />
<rect x="614" y="513" width="1" height="7" fill="#c0c0c0" />
<rect x="622" y="517" width="1" height="3" fill="#c0c0c0" />
<rect x="630" y="519" width="1" height="1" fill="#c0c0c0" />
<rect x="638" y="520" width="1" height="0" fill="#c0c0c0" />
<rect x="646" y="520" width="1" height="2" fill="#c0c0c0" />
<rect x="654" y="520" width="1" height="2" fill="#c0c0c0" />
<rect x="662" y="520" width="1" height="2" fill="#c0c0c0" />
<rect x="670" y="520" width="1" height="2" fill="#c0c0c0" />
<rect x="678" y="520" width="1" height="2" fill="#c0c0c0" />
<rect x="686" y="520" width="1" height="2" fill="#c0c0c0" />
<rect x="694" y="520" width="1" height="2" fill="#c0c0c0" />
<rect x="702" y="520" width="1" height="2" fill="#c0c0c0" />
<rect x="710" y="520" width="1" height="2" fill="#c0c0c0" />
<rect x="718" y="520" width="1" height="2" fill="#c0c0c0" />
<rect x="726" y="520" width="1" height="6" fill="#c0c0c0" />
<rect x="734" y="520" width="1" height="10" fill="#c0c0c0" />
<rect x="742" y="520" width="1" height="13" fill="#c0c0c0" />
<rect x="750" y="520" width="1" height="17" fill="#c0c0c0" />
<rect x="758" y="520" width="1" height="18" fill="#c0c0c0" />
<rect x="766" y="520" width="1" height="18" fill="#c0c0c0" />
<rect x="774" y="520" width="1" height="16" fill="#c0c0c0" />
<rect x="782" y="520" width="1" height="14" fill="#c0c0c0" />
<rect x="790" y="520" width="1" height="10" fill="#c0c0c0" />
<rect x="798" y="520" width="1" height="10" fill="#c0c0c0" />
<rect x="806" y="520" width="1" height="10" fill="#c0c0c0" />
<rect x="814" y="520" width="1" height="11" fill="#c0c0c0" />
<rect x="822" y="520" width="1" height="10" fill="#c0c0c0" />
<rect x="830" y="520" width="1" height="12" fill="#c0c0c0" />
<rect x="838" y="520" width="1" height="10" fill="#c0c0c0" />
<rect x="846" y="520" width="1" height="11" fill="#c0c0c0" />
<rect x="854" y="520" width="1" height="16" fill="#c0c0c0" />
<rect x="862" y="520" width="1" height="17" fill="#c0c0c0" />
<rect x="870" y="520" width="1" height="16" fill="#c0c0c0" />
<rect x="878" y="520" width="1" height="19" fill="#c0c0c0" />
<rect x="886" y="520" width="1" height="21" fill="#c0c0c0" />
<rect x="894" y="520" width="1" height="23" fill="#c0c0c0" />
<rect x="902" y="520" width="1" height="26" fill="#c0c0c0" />
<rect x="910" y="520" width="1" height="24" fill="#c0c0c0" />
<rect x="918" y="520" width="1" height="22" fill="#c0c0c0" />
<rect x="926" y="520" width="1" height="22" fill="#c0c0c0" />
<rect x="934" y="520" width="1" height="22" fill="#c0c0c0" />
<rect x="942" y="520" width="1" height="23" fill="#c0c0c0" />
<rect x="950" y="520" width="1" height="24" fill="#c0c0c0" />
<rect x="958" y="520" width="1" height="28" fill="#c0c0c0" />
<rect x="966" y="520" width="1" height="28" fill="#c0c0c0" />
<rect x="974" y="520" width="1" height="26" fill="#c0c0c0" />
</g>
<polyline points="6.0,520.5 25.0,522.5 37.5,526.8 50.0,533.5 62.5,540.5 75.0,549.2 87.5,555.5 100.0,561.8 112.5,568.0 125.0,570.5 137.5,570.5 150.0,569.2 162.5,568.5 175.0,566.8 187.5,565.5 200.0,565.0 212.5,565.5 225.0,566.0 237.5,565.5 250.0,561.8 262.5,555.5 275.0,546.0 287.5,534.2 300.0,521.8 322.5,500.5 335.0,490.5 342.5,485.5 355.0,479.2 370.0,478.5 390.0,478.5 407.5,479.2 427.5,480.5 445.0,480.5 470.0,480.0 482.5,479.2 500.0,478.5 527.5,478.5 545.0,480.5 570.0,483.5 582.5,486.0 595.0,486.8 607.5,490.5 620.0,494.2 640.0,503.0 653.3,511.1 666.6,516.4 677.2,520.7 693.2,522.0 719.8,522.5 741.0,524.4 754.4,527.8 767.7,530.5 783.6,533.2 799.6,534.5 826.2,532.6 839.5,531.3 858.1,532.4 879.4,534.5 895.3,536.6 906.0,539.3 932.6,541.9 953.9,543.8 975.0,544.6" fill="none" stroke="#ff0000" stroke-width="1" stroke-dasharray="3 3" shape-rendering="crispEdges"/>
</g>
<text x="10" y="481" font-size="9.8" fill="#000" font-weight="normal" text-anchor="start" textLength="153" lengthAdjust="spacingAndGlyphs" stroke="#000" stroke-width="0.1">MACD(12,26,9) -0.003231 -0.002904</text>
<g shape-rendering="crispEdges">
<path d="M9 50 H61 V74 H118 V114 H9 Z" fill="url(#btnl)"/>
<path d="M176 50 H228 V114 H120 V74 H176 Z" fill="url(#btnl)"/>
<path d="M9.5 50.5 H60.5 V74.5 H117.5 V113.5 H9.5 Z" fill="none" stroke="#0808c0"/>
<path d="M176.5 50.5 H227.5 V113.5 H120.5 V74.5 H176.5 Z" fill="none" stroke="#0808c0"/>
<rect x="13" y="73" width="44" height="1" fill="#2020b0" />
<rect x="13" y="74" width="44" height="1" fill="#9090ff" />
<rect x="180" y="73" width="44" height="1" fill="#2020b0" />
<rect x="180" y="74" width="44" height="1" fill="#9090ff" />
<rect x="63" y="50" width="111" height="23" fill="#a8a8a8" />
<rect x="64" y="51" width="109" height="21" fill="#ffffff" />
<rect x="65" y="52" width="19" height="9" fill="#ececec" />
<rect x="65" y="61" width="19" height="10" fill="#d6d6d6" />
<rect x="153" y="52" width="19" height="9" fill="#ececec" />
<rect x="153" y="61" width="19" height="10" fill="#d6d6d6" />
<rect x="84" y="51" width="1" height="21" fill="#c0c0c0" />
<rect x="152" y="51" width="1" height="21" fill="#c0c0c0" />
</g>
<path d="M70.5 59 L75.5 59 L73 62 Z" fill="#5a6aa0"/>
<path d="M160.5 62 L165.5 62 L163 59 Z" fill="#5a6aa0"/>
<text x="125" y="65" font-size="12.5" fill="#000" font-weight="normal" text-anchor="start" textLength="23.5" lengthAdjust="spacingAndGlyphs" >0.01</text>
<text x="21.5" y="65.5" font-size="12" fill="#fff" font-weight="normal" text-anchor="start" textLength="25" lengthAdjust="spacingAndGlyphs" >SELL</text>
<text x="189.5" y="65.5" font-size="12" fill="#fff" font-weight="normal" text-anchor="start" textLength="23.5" lengthAdjust="spacingAndGlyphs" >BUY</text>
<text x="29.3" y="104.3" font-size="11" fill="#fff" font-weight="bold" text-anchor="start" textLength="23.5" lengthAdjust="spacingAndGlyphs" >0.98</text>
<text x="139.3" y="104.3" font-size="11" fill="#fff" font-weight="bold" text-anchor="start" textLength="23.5" lengthAdjust="spacingAndGlyphs" >0.98</text>
<text x="57.8" y="104.4" font-size="33" fill="#fff" font-weight="normal" text-anchor="start" textLength="33" lengthAdjust="spacingAndGlyphs" >38</text>
<text x="167" y="104.4" font-size="33" fill="#fff" font-weight="normal" text-anchor="start" textLength="35" lengthAdjust="spacingAndGlyphs" >40</text>
<text x="96.2" y="88.8" font-size="11.5" fill="#fff" font-weight="bold" text-anchor="start" textLength="6.5" lengthAdjust="spacingAndGlyphs" >1</text>
<text x="207.8" y="88.8" font-size="11.5" fill="#fff" font-weight="bold" text-anchor="start" textLength="6" lengthAdjust="spacingAndGlyphs" >6</text>
<g shape-rendering="crispEdges">
<rect x="1" y="603" width="1278" height="1" fill="#000" />
<rect x="1" y="604" width="2" height="18" fill="#a0a0a0" />
<rect x="1277" y="604" width="1" height="19" fill="#e3e3e3" />
<rect x="0" y="623" width="1279" height="1" fill="#ffffff" />
<rect x="0" y="627" width="1276" height="1" fill="#a0a0a0" />
<rect x="203" y="603" width="100" height="19" fill="#ffffff" />
<rect x="203" y="603" width="1" height="19" fill="#000" />
<rect x="302" y="603" width="1" height="19" fill="#000" />
<rect x="203" y="621" width="100" height="1" fill="#000" />
<rect x="99" y="606" width="1" height="14" fill="#696969" />
<rect x="406" y="606" width="1" height="14" fill="#696969" />
<rect x="510" y="606" width="1" height="14" fill="#696969" />
<rect x="594" y="606" width="1" height="14" fill="#696969" />
<rect x="686" y="606" width="1" height="14" fill="#696969" />
<rect x="779" y="606" width="1" height="14" fill="#696969" />
<rect x="866" y="606" width="1" height="14" fill="#696969" />
<rect x="970" y="606" width="1" height="14" fill="#696969" />
<rect x="1039" y="606" width="1" height="14" fill="#696969" />
<rect x="1130" y="606" width="1" height="14" fill="#696969" />
</g>
<text x="19" y="618" font-size="12.5" fill="#6d6d6d" font-weight="normal" text-anchor="start" textLength="68" lengthAdjust="spacingAndGlyphs" >EURUSD,H4</text>
<text x="110" y="618" font-size="12.5" fill="#6d6d6d" font-weight="normal" text-anchor="start" textLength="82" lengthAdjust="spacingAndGlyphs" >AUDUSD,Daily</text>
<text x="213" y="618" font-size="12.5" fill="#000" font-weight="normal" text-anchor="start" textLength="79" lengthAdjust="spacingAndGlyphs" >USDCHF,Daily</text>
<text x="314" y="618" font-size="12.5" fill="#6d6d6d" font-weight="normal" text-anchor="start" textLength="81" lengthAdjust="spacingAndGlyphs" >USDCAD,Daily</text>
<text x="417" y="618" font-size="12.5" fill="#6d6d6d" font-weight="normal" text-anchor="start" textLength="83" lengthAdjust="spacingAndGlyphs" >USDCNH,Daily</text>
<text x="521" y="618" font-size="12.5" fill="#6d6d6d" font-weight="normal" text-anchor="start" textLength="62" lengthAdjust="spacingAndGlyphs" >USDJPY,H4</text>
<text x="605" y="618" font-size="12.5" fill="#6d6d6d" font-weight="normal" text-anchor="start" textLength="70" lengthAdjust="spacingAndGlyphs" >XAUUSD,H1</text>
<text x="699" y="618" font-size="12.5" fill="#6d6d6d" font-weight="normal" text-anchor="start" textLength="67.5" lengthAdjust="spacingAndGlyphs" >GBPUSD,H1</text>
<text x="791.5" y="618" font-size="12.5" fill="#6d6d6d" font-weight="normal" text-anchor="start" textLength="62.5" lengthAdjust="spacingAndGlyphs" >SP500,M15</text>
<text x="879" y="618" font-size="12.5" fill="#6d6d6d" font-weight="normal" text-anchor="start" textLength="80" lengthAdjust="spacingAndGlyphs" >GBPUSD,Daily</text>
<text x="981.5" y="618" font-size="12.5" fill="#6d6d6d" font-weight="normal" text-anchor="start" textLength="46.0" lengthAdjust="spacingAndGlyphs" >DJ30,H4</text>
<text x="1049" y="618" font-size="12.5" fill="#6d6d6d" font-weight="normal" text-anchor="start" textLength="70" lengthAdjust="spacingAndGlyphs" >TECH100,H1</text>
<path d="M1247 612 L1251 609 L1251 615 Z" fill="#a0a0a0"/>
<path d="M1266 609 L1269.5 612 L1266 615 Z" fill="#808080"/>
</svg>
</body></html>
